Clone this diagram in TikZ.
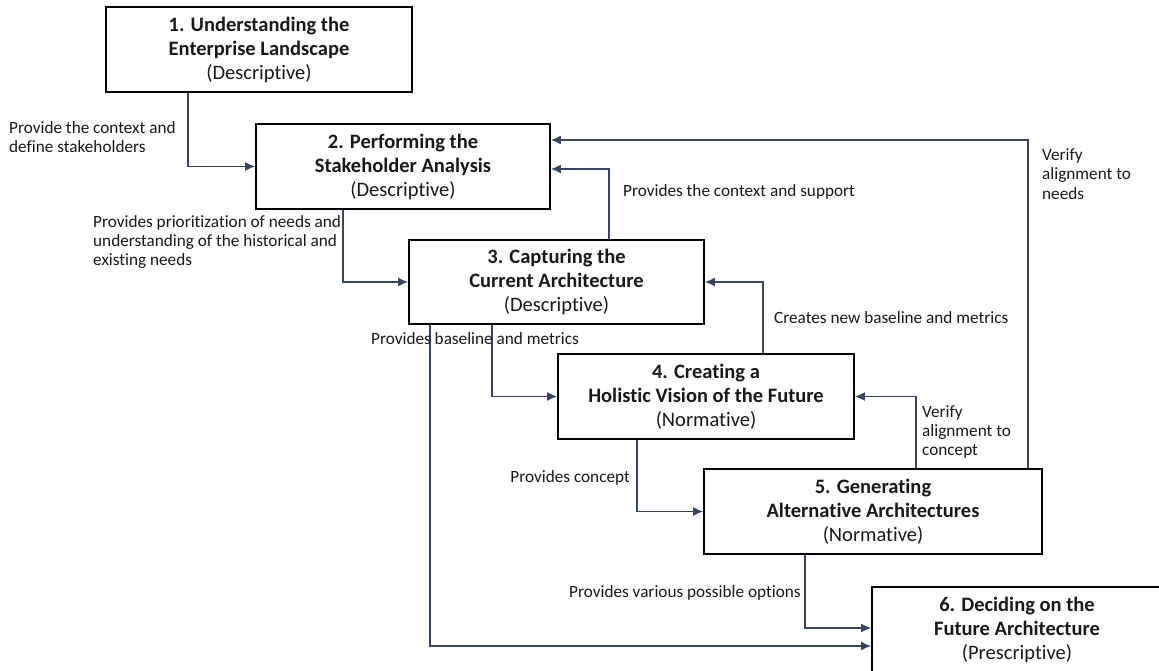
\documentclass[tikz,border=0pt]{standalone}
\usepackage{fontspec}
\setmainfont{Carlito}[RawFeature={-liga}]
\usetikzlibrary{arrows.meta,calc}
\definecolor{conncol}{RGB}{55,68,98}
\definecolor{txtcol}{RGB}{25,25,25}
\tikzset{
  box/.style={draw=black, line width=1.9pt, fill=white, align=center, text=txtcol,
    inner sep=0pt, font=\fontsize{20.5}{24}\selectfont},
  conn/.style={draw=conncol, line width=1.3pt, -{Latex[length=10pt,width=9pt]}},
  lbl/.style={text=txtcol, inner sep=0pt, font=\fontsize{17.2}{19.3}\selectfont},
}
\begin{document}
\begin{tikzpicture}[x=1pt,y=-1pt]
\useasboundingbox (0,0) rectangle (1159,670);
\clip (0,0) rectangle (1159,670);
\fill[white] (0,0) rectangle (1159,670);

\node[box, minimum width=306pt, minimum height=85pt] (b1) at (259,49.5)
  {\textbf{1. Understanding the}\\\textbf{Enterprise Landscape}\\(Descriptive)};
\node[box, minimum width=294pt, minimum height=85pt] (b2) at (403,166.5)
  {\textbf{2. Performing the}\\\textbf{Stakeholder Analysis}\\(Descriptive)};
\node[box, minimum width=295pt, minimum height=84pt] (b3) at (556.5,282)
  {\textbf{3. Capturing the}\\\textbf{Current Architecture}\\(Descriptive)};
\node[box, minimum width=296pt, minimum height=85pt] (b4) at (706,396.5)
  {\textbf{4. Creating a}\\\textbf{Holistic Vision of the Future}\\(Normative)};
\node[box, minimum width=338pt, minimum height=85pt] (b5) at (873,511.5)
  {\textbf{5. Generating}\\\textbf{Alternative Architectures}\\(Normative)};
\node[box, minimum width=290pt, minimum height=85pt] (b6) at (1017,629.5)
  {\textbf{6. Deciding on the}\\\textbf{Future Architecture}\\(Prescriptive)};

% connectors
\draw[conn] ($(b1.south west)+(83,0)$) |- (b2.west);
\draw[conn] ($(b2.south west)+(88,0)$) |- (b3.west);
\draw[conn] ($(b3.north west)+(201,0)$) |- ($(b2.east)+(0,2.5)$);
\draw[conn] ($(b5.north west)+(325,0)$) |- ($(b2.east)+(0,-26.5)$);
\draw[conn] ($(b3.south west)+(84,0)$) |- (b4.west);
\draw[conn] ($(b4.north west)+(206,0)$) |- (b3.east);
\draw[conn] ($(b5.north west)+(213,0)$) |- (b4.east);
\draw[conn] ($(b4.south west)+(80,0)$) |- (b5.west);
\draw[conn] ($(b3.south west)+(22,0)$) |- ($(b6.west)+(0,16.5)$);
\draw[conn] ($(b5.south west)+(102,0)$) |- ($(b6.west)+(0,-1.5)$);

% labels
\node[lbl, align=left, anchor=west] (l12) at (9,137)
  {Provide the context and\\define stakeholders};
\node[lbl, align=left, anchor=west] (l23) at (93,242)
  {Provides prioritization of needs and\\understanding of the historical and\\existing needs};
\node[lbl, anchor=west] (l32) at (623,192) {Provides the context and support};
\node[lbl, anchor=west] (l34) at (371,339) {Provides baseline and metrics};
\node[lbl, anchor=west] (l43) at (774,318) {Creates new baseline and metrics};
\node[lbl, anchor=east] (l45) at (630,478) {Provides concept};
\node[lbl, anchor=west] (l56) at (569,593) {Provides various possible options};
\node[lbl, align=left, anchor=west] (l54) at (922,432) {Verify\\alignment to\\concept};
\node[lbl, align=left, anchor=west] (l52) at (1042,174) {Verify\\alignment to\\needs};
\end{tikzpicture}
\end{document}
